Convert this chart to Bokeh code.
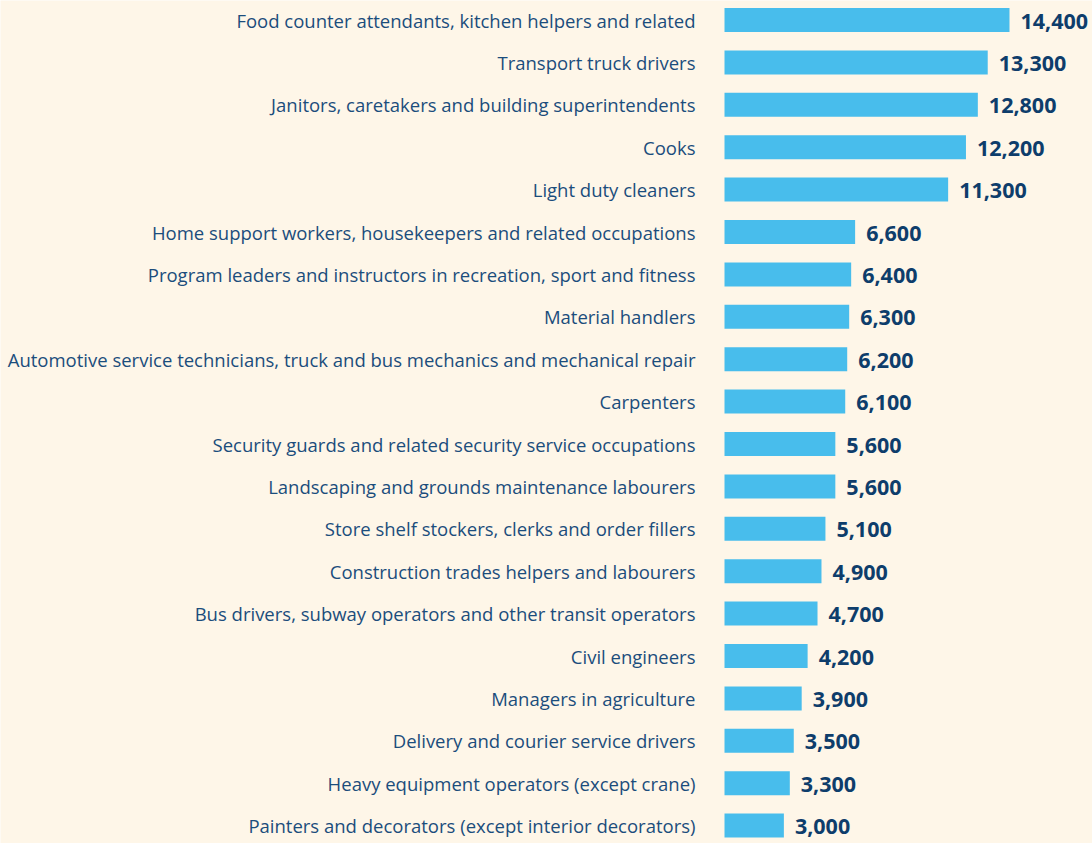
from bokeh.plotting import figure
from bokeh.models import Range1d, ColumnDataSource
from bokeh.core.properties import value
from bokeh.embed import file_html
from bokeh.resources import INLINE

occupations = [
    "Food counter attendants, kitchen helpers and related",
    "Transport truck drivers",
    "Janitors, caretakers and building superintendents",
    "Cooks",
    "Light duty cleaners",
    "Home support workers, housekeepers and related occupations",
    "Program leaders and instructors in recreation, sport and fitness",
    "Material handlers",
    "Automotive service technicians, truck and bus mechanics and mechanical repair",
    "Carpenters",
    "Security guards and related security service occupations",
    "Landscaping and grounds maintenance labourers",
    "Store shelf stockers, clerks and order fillers",
    "Construction trades helpers and labourers",
    "Bus drivers, subway operators and other transit operators",
    "Civil engineers",
    "Managers in agriculture",
    "Delivery and courier service drivers",
    "Heavy equipment operators (except crane)",
    "Painters and decorators (except interior decorators)",
]
openings = [14400, 13300, 12800, 12200, 11300, 6600, 6400, 6300, 6200, 6100,
            5600, 5600, 5100, 4900, 4700, 4200, 3900, 3500, 3300, 3000]

BG = "#fef6e8"
BAR = "#48bdec"
LABEL = "#1b4d7c"
VAL = "#0e3d6b"

src = ColumnDataSource(dict(
    y=list(range(len(occupations))),
    occ=occupations,
    val=openings,
    txt=[f"{v:,}" for v in openings],
))

W, H = 1092, 843
k = 14400 / 285.0  # data units per pixel
x0 = 724
step = 42.4
top = -19.5 / step
p = figure(width=W, height=H, output_backend="svg", toolbar_location=None,
           x_range=Range1d(-x0 * k, (W - x0) * k),
           y_range=Range1d(top + H / step, top),
           min_border=0, background_fill_color=BG, border_fill_color=BG,
           outline_line_color=None)
p.axis.visible = False
p.grid.visible = False

p.hbar(y="y", right="val", left=0, height=0.566, source=src,
       fill_color=BAR, line_color=None)

p.text(x=0, y="y", text="occ", source=src, x_offset=-29,
       text_align="right", text_baseline="middle",
       text_font=value("Open Sans"), text_font_size="18.5px", text_color=LABEL)

p.text(x="val", y="y", text="txt", source=src, x_offset=11, y_offset=1,
       text_align="left", text_baseline="middle",
       text_font=value("Open Sans"), text_font_style="bold",
       text_font_size="21.5px", text_color=VAL)

open("out.html", "w").write(file_html(p, INLINE))
